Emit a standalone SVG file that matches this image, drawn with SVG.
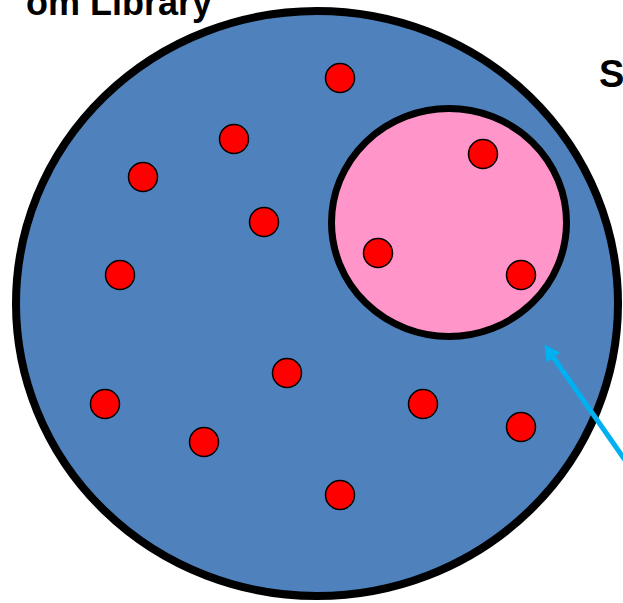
<svg xmlns="http://www.w3.org/2000/svg" width="623" height="603" viewBox="0 0 623 603">
<style>
.lbl{font-family:"Liberation Sans",Arial,sans-serif;font-weight:bold;fill:#000}
.dot{fill:#ff0000;stroke:#000;stroke-width:1.5}
</style>
<defs>
<marker id="ah" markerWidth="3.2" markerHeight="3.4" refX="0.1" refY="1.7" orient="auto" markerUnits="strokeWidth">
<path d="M0,0 L3.2,1.7 L0,3.4 z" fill="#00b0f0"/>
</marker>
</defs>
<rect width="623" height="603" fill="#fff"/>
<text class="lbl" x="212" y="15" font-size="36" text-anchor="end">om Library</text>
<text class="lbl" x="599" y="87" font-size="38">S</text>
<g id="library">
<ellipse cx="317" cy="303.5" rx="301" ry="292.5" fill="#4f81bd" stroke="#000" stroke-width="8"/>
</g>
<g id="subset">
<ellipse cx="449" cy="222.5" rx="117.5" ry="114" fill="#ff95c9" stroke="#000" stroke-width="7"/>
</g>
<g id="dots">
<circle class="dot" cx="340" cy="78" r="14.5"/>
<circle class="dot" cx="234" cy="139" r="14.5"/>
<circle class="dot" cx="143" cy="177" r="14.5"/>
<circle class="dot" cx="264" cy="222" r="14.5"/>
<circle class="dot" cx="120" cy="275" r="14.5"/>
<circle class="dot" cx="483" cy="154" r="14.5"/>
<circle class="dot" cx="378" cy="253" r="14.5"/>
<circle class="dot" cx="521" cy="275" r="14.5"/>
<circle class="dot" cx="287" cy="373" r="14.5"/>
<circle class="dot" cx="105" cy="404" r="14.5"/>
<circle class="dot" cx="204" cy="442" r="14.5"/>
<circle class="dot" cx="423" cy="404" r="14.5"/>
<circle class="dot" cx="521" cy="427" r="14.5"/>
<circle class="dot" cx="340" cy="495" r="14.5"/>
</g>
<g id="connectors">
<line x1="625" y1="460" x2="553.2" y2="357.1" stroke="#00b0f0" stroke-width="5" marker-end="url(#ah)"/>
</g>
</svg>
